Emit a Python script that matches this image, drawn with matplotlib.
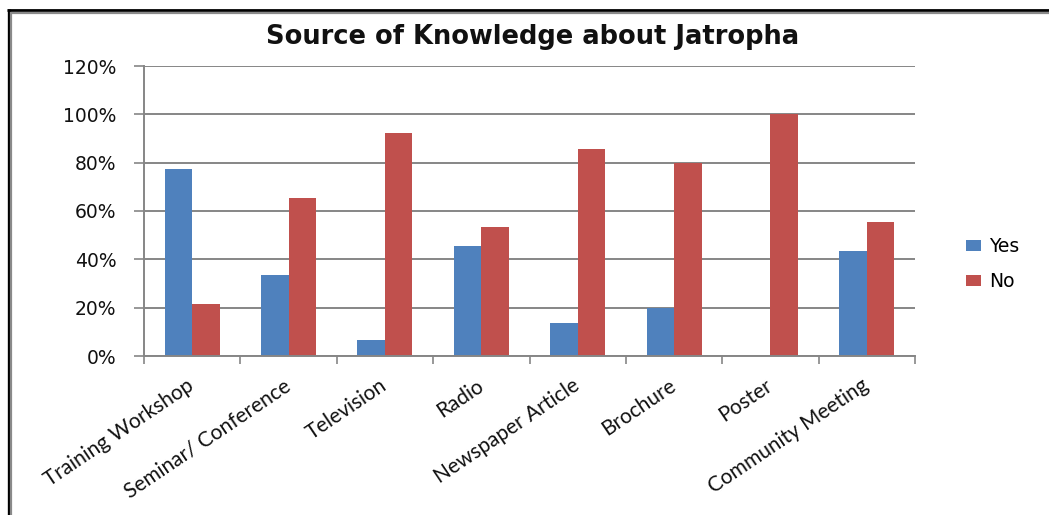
import matplotlib
matplotlib.use("Agg")
import matplotlib.pyplot as plt
from matplotlib.lines import Line2D
from matplotlib.patches import Patch
from matplotlib.ticker import FuncFormatter
import numpy as np

categories = ["Training Workshop", "Seminar/ Conference", "Television", "Radio",
              "Newspaper Article", "Brochure", "Poster", "Community Meeting"]
yes_pct = [77.5, 33.5, 6.7, 45.5, 13.7, 20.0, 0.0, 43.5]
no_pct = [21.5, 65.5, 92.3, 53.4, 85.7, 80.0, 100.0, 55.5]
series_names = ["Yes", "No"]
y_ticks = [0, 20, 40, 60, 80, 100, 120]

W, H, DPI = 1049, 515, 100
BLUE = "#4F81BD"
RED = "#C0504D"
GRID = "#868686"

fig = plt.figure(figsize=(W / DPI, H / DPI), dpi=DPI)
fig.patch.set_facecolor("white")

# plot area in pixel coordinates: x 144..915, y 66..356
ax = fig.add_axes([144 / W, 1 - 356 / H, 771 / W, 290 / H])

x = np.arange(len(categories))
bw = 1 / 3.5
ax.bar(x - bw / 2, yes_pct, width=bw, color=BLUE, label=series_names[0], zorder=3)
ax.bar(x + bw / 2, no_pct, width=bw, color=RED, label=series_names[1], zorder=3)

ax.set_xlim(-0.5, len(categories) - 0.5)
ax.set_ylim(0, 120)
ax.set_yticks(y_ticks)
ax.yaxis.set_major_formatter(FuncFormatter(lambda v, p: f"{int(v)}%"))
ax.grid(axis="y", color=GRID, linewidth=1.4, zorder=0)
ax.set_axisbelow(True)

for side in ("top", "right"):
    ax.spines[side].set_visible(False)
for side in ("left", "bottom"):
    ax.spines[side].set_color(GRID)
    ax.spines[side].set_linewidth(1.4)
    ax.spines[side].set_zorder(4)

ax.tick_params(axis="y", direction="out", length=7, width=1.2, color=GRID,
               pad=13, labelsize=13.5, labelcolor="#111111")
for lab in ax.get_yticklabels():
    lab.set_family("DejaVu Sans")

# category boundaries carry the tick marks, labels sit on category centres
ax.set_xticks(x)
ax.set_xticklabels(categories, family="Lato", fontsize=15, color="#111111")
ax.set_xticks(np.arange(-0.5, len(categories), 1), minor=True)
ax.tick_params(axis="x", which="major", length=0, pad=20)
ax.tick_params(axis="x", which="minor", direction="out", length=6, width=1.2, color=GRID)
for lab in ax.get_xticklabels():
    lab.set_rotation(34)
    lab.set_ha("right")
    lab.set_va("center")
    lab.set_rotation_mode("anchor")

fig.text(533 / W, 1 - 37 / H, "Source of Knowledge about Jatropha",
         ha="center", va="center", fontsize=18.5, fontweight="bold",
         family="DejaVu Sans", color="#111111")

fs_leg = 13.5
fs_px = fs_leg * DPI / 72
handles = [Patch(facecolor=BLUE, edgecolor="none"), Patch(facecolor=RED, edgecolor="none")]
fig.legend(handles, series_names, loc="center left",
           bbox_to_anchor=(962 / W, 1 - 264 / H), frameon=False,
           prop={"family": "DejaVu Sans", "size": fs_leg},
           handlelength=15 / fs_px, handleheight=10 / fs_px, handletextpad=0.45,
           labelspacing=0.85, borderpad=0.2, borderaxespad=0)

# double frame along the left and top edges
def fig_line(xs, ys, color, lw):
    fig.add_artist(Line2D([v / W for v in xs], [1 - v / H for v in ys],
                          transform=fig.transFigure, color=color, linewidth=lw,
                          solid_capstyle="butt"))

fig_line([8.5, 8.5], [9, H], "black", 2.4)
fig_line([7, W], [10, 10], "black", 2.0)
fig_line([11, 11], [12, H], "#8a8a8a", 1.6)
fig_line([10, W], [12.5, 12.5], "#8a8a8a", 1.6)

fig.savefig("out.png", dpi=DPI, facecolor="white")
